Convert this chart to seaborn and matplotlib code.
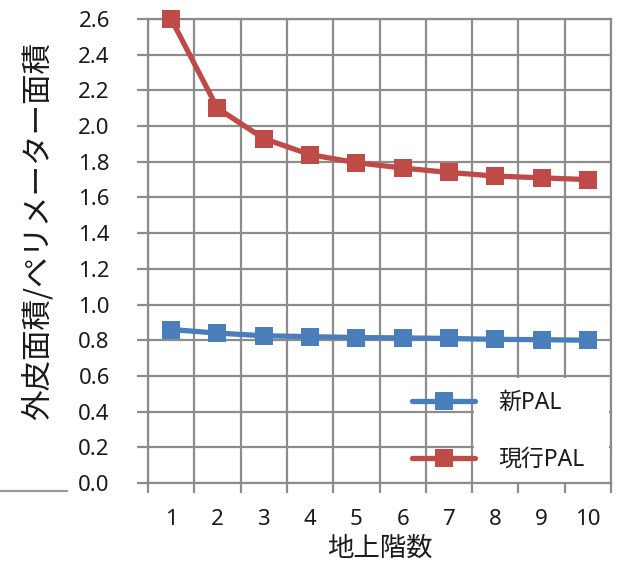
import matplotlib
matplotlib.use("Agg")
import matplotlib.pyplot as plt
import matplotlib.patches as mpatches
from matplotlib.lines import Line2D
import numpy as np
import pandas as pd
import seaborn as sns

# Floor count vs. envelope area / perimeter area ratio
floors = [1, 2, 3, 4, 5, 6, 7, 8, 9, 10]
new_pal = [0.86, 0.84, 0.825, 0.82, 0.815, 0.813, 0.81, 0.805, 0.803, 0.80]
current_pal = [2.60, 2.10, 1.93, 1.84, 1.795, 1.765, 1.74, 1.72, 1.71, 1.70]
series_names = ["新PAL", "現行PAL"]
y_ticks = [0.0, 0.2, 0.4, 0.6, 0.8, 1.0, 1.2, 1.4, 1.6, 1.8, 2.0, 2.2, 2.4, 2.6]
x_label = "地上階数"
y_label = "外皮面積/ペリメーター面積"

df = pd.DataFrame({
    "floor": floors * 2,
    "value": new_pal + current_pal,
    "series": [series_names[0]] * len(floors) + [series_names[1]] * len(floors),
})

sns.set_theme(style="white")
plt.rcParams["font.family"] = ["Noto Sans", "Noto Sans CJK JP", "DejaVu Sans"]
cjk = ["Noto Sans CJK JP", "DejaVu Sans"]

W, H = 625, 563
fig = plt.figure(figsize=(W / 100, H / 100), dpi=100)
ax = fig.add_axes([148 / W, 1 - 483 / H, (611 - 148) / W, (483 - 19) / H])

grid_c = "#8c8c8c"
text_c = "#1a1a1a"
palette = {series_names[0]: "#4a7ebb", series_names[1]: "#be4b48"}

sns.lineplot(data=df, x="floor", y="value", hue="series", style="series",
             palette=palette, markers={s: "s" for s in series_names},
             dashes=False, linewidth=3.8, markersize=13, markeredgewidth=0,
             ax=ax, legend=False, zorder=3, clip_on=False)

ax.set_xlim(0.5, 10.5)
ax.set_ylim(0, 2.6)
ax.set_xticks(floors)
ax.set_xticks(np.arange(0.5, 11, 1.0), minor=True)
ax.set_yticks(y_ticks)
ax.set_yticklabels([f"{v:.1f}" for v in y_ticks])
ax.set_xticklabels([str(f) for f in floors])

ax.tick_params(axis="x", which="major", length=0, pad=19, labelsize=16,
               labelcolor=text_c)
ax.tick_params(axis="x", which="minor", length=7, width=1.6, color=grid_c,
               direction="out")
ax.tick_params(axis="y", which="major", length=8, width=1.6, color=grid_c,
               direction="out", pad=19.5, labelsize=16, labelcolor=text_c)
ax.tick_params(left=True, bottom=True, which="both")

ax.grid(False)
ax.xaxis.grid(True, which="minor", color=grid_c, linewidth=1.6)
ax.yaxis.grid(True, which="major", color=grid_c, linewidth=1.6)
ax.set_axisbelow(True)
for sp in ax.spines.values():
    sp.set_color(grid_c)
    sp.set_linewidth(1.6)

ax.set_xlabel(x_label, fontsize=19, color=text_c, family=cjk)
ax.set_ylabel(y_label, fontsize=22, color=text_c, family=cjk)
ax.yaxis.set_label_coords(54 / W, 1 - 231 / H, transform=fig.transFigure)
ax.xaxis.set_label_coords(380 / W, 1 - 535 / H, transform=fig.transFigure)

# white panel behind the legend labels
ax.add_patch(mpatches.Rectangle((474 / W, 1 - 482 / H), (609 - 474) / W,
                                (482 - 378) / H, transform=fig.transFigure,
                                facecolor="white", edgecolor="none",
                                zorder=2.5, clip_on=False))

handles = [Line2D([], [], color=palette[s], linewidth=3.8, marker="s",
                  markersize=13, markeredgewidth=0) for s in series_names]
leg = ax.legend(handles, series_names, loc="center left",
                bbox_to_anchor=(412 / W, 1 - 431.5 / H),
                bbox_transform=fig.transFigure, frameon=False,
                prop={"size": 16.5}, handlelength=2.75, handletextpad=1.0,
                labelspacing=1.45, borderpad=0, borderaxespad=0)
for t in leg.get_texts():
    t.set_color(text_c)
leg.set_zorder(5)

# stray rule at the lower left
fig.add_artist(Line2D([0, 67 / W], [1 - 491 / H, 1 - 491 / H],
                      color="#9a9a9a", linewidth=1.6))

fig.savefig("out.png", dpi=100)
